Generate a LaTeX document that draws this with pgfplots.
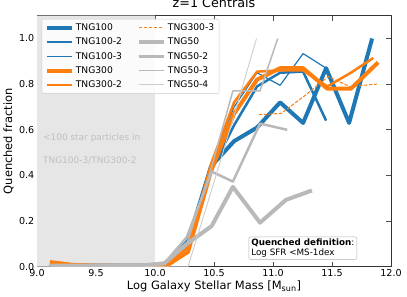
\documentclass[border=0pt]{standalone}
\usepackage{fontspec}
\setmainfont{DejaVu Sans}
\usepackage{pgfplots}
\pgfplotsset{compat=1.18}
\definecolor{tblue}{RGB}{31,119,180}
\definecolor{torange}{RGB}{255,127,14}
\definecolor{tgray}{RGB}{185,185,185}
\definecolor{tlgray}{RGB}{205,205,205}
\definecolor{shade}{RGB}{230,230,230}
\begin{document}
\begin{tikzpicture}
\useasboundingbox (0,0) rectangle (407bp,297bp);
\begin{axis}[
  at={(37bp,30.3bp)}, anchor=south west,
  scale only axis, width=354bp, height=251bp,
  xmin=9, xmax=12, ymin=0, ymax=1.1,
  xtick={9,9.5,10,10.5,11,11.5,12},
  ytick={0,0.2,0.4,0.6,0.8,1.0},
  minor tick num=0,
  tick align=inside,
  xtick pos=both, ytick pos=both,
  major tick length=5bp,
  tick style={black!70, line width=0.8bp},
  axis line style={black!80, line width=0.8bp},
  /pgf/number format/assume math mode=true,
  xticklabel style={/pgf/number format/.cd, fixed, fixed zerofill, precision=1},
  yticklabel style={/pgf/number format/.cd, fixed, fixed zerofill, precision=1},
  tick label style={font=\fontsize{9.6}{11}\selectfont},
  every tick label/.append style={inner sep=2.5bp},
  title={z=1 Centrals},
  title style={font=\fontsize{12.8}{14}\selectfont, at={(axis description cs:0.5,1)}, anchor=base, yshift=2.4bp, inner sep=0pt},
  xlabel={Log Galaxy Stellar Mass [M$_{\mathrm{sun}}$]},
  ylabel={Quenched fraction},
  label style={font=\fontsize{11.5}{13}\selectfont},
  xlabel style={at={(axis description cs:0.5,-0.0797)}, anchor=center},
  ylabel style={at={(axis description cs:-0.0805,0.5)}, anchor=center},
  legend columns=5,
  transpose legend,
  legend cell align=left,
  legend style={at={(0.013,0.987)}, anchor=north west, draw=black!20, rounded corners=2bp,
    fill=white, fill opacity=0.85, text opacity=1,
    font=\fontsize{9.2}{10}\selectfont, row sep=2bp, inner xsep=3bp, inner ysep=2.5bp,
    /tikz/every even column/.append style={column sep=13bp}},
  legend image code/.code={\draw[#1] (0bp,0bp) -- (25bp,0bp);},
  line join=round,
]
\addplot[fill=shade, draw=none, forget plot] coordinates {(9,0) (10,0) (10,1.1) (9,1.1)} \closedcycle;

% TNG100
\addplot[tblue, line width=4bp] coordinates {
(9.11,0.005) (9.305,0.005) (9.5,0.005) (9.695,0.005) (9.89,0.005) (10.085,0.01)
(10.28,0.11) (10.475,0.44) (10.67,0.55) (10.865,0.61) (11.06,0.72) (11.255,0.63)
(11.45,0.87) (11.645,0.63) (11.84,1.0)};
\addlegendentry{TNG100}
% TNG100-2
\addplot[tblue, line width=2.5bp] coordinates {
(9.11,0.005) (9.305,0.005) (9.5,0.005) (9.695,0.005) (9.89,0.005) (10.085,0.01)
(10.28,0.10) (10.475,0.42) (10.67,0.62) (10.865,0.79) (11.06,0.85) (11.255,0.855)
(11.45,0.64)};
\addlegendentry{TNG100-2}
% TNG100-3
\addplot[tblue, line width=1.2bp] coordinates {
(9.11,0.005) (9.305,0.005) (9.5,0.005) (9.695,0.005) (9.89,0.005) (10.085,0.01)
(10.28,0.12) (10.475,0.45) (10.67,0.70) (10.865,0.85) (11.06,0.795) (11.255,0.934)
(11.45,0.87)};
\addlegendentry{TNG100-3}
% TNG300
\addplot[torange, line width=4bp] coordinates {
(9.11,0.02) (9.305,0.008) (9.5,0.005) (9.695,0.004) (9.89,0.004) (10.085,0.0)
(10.28,0.065) (10.475,0.42) (10.67,0.67) (10.865,0.82) (11.06,0.87) (11.255,0.87)
(11.46,0.78) (11.66,0.78) (11.89,0.895)};
\addlegendentry{TNG300}
% TNG300-2
\addplot[torange, line width=2.5bp] coordinates {
(9.11,0.015) (9.305,0.006) (9.5,0.004) (9.695,0.004) (9.89,0.006) (10.085,0.003)
(10.28,0.085) (10.475,0.45) (10.67,0.72) (10.865,0.855) (11.06,0.86) (11.255,0.86)
(11.46,0.79) (11.66,0.85) (11.85,0.915)};
\addlegendentry{TNG300-2}
% TNG300-3
\addplot[torange, line width=1bp, dash pattern=on 3.5bp off 1.5bp] coordinates {
(10.88,0.666) (11.07,0.672) (11.27,0.75) (11.47,0.833) (11.65,0.79) (11.88,0.80)};
\addlegendentry{TNG300-3}
% TNG50
\addplot[tgray, line width=4bp] coordinates {
(9.11,0.005) (9.33,0.005) (9.55,0.005) (9.77,0.005) (9.9,0.006) (10.08,0.015)
(10.27,0.10) (10.48,0.178) (10.66,0.35) (10.89,0.193) (11.11,0.293) (11.33,0.334)};
\addlegendentry{TNG50}
% TNG50-2
\addplot[tgray, line width=2.5bp] coordinates {
(9.11,0.005) (9.33,0.005) (9.55,0.005) (9.77,0.005) (9.9,0.006) (10.08,0.015)
(10.27,0.13) (10.48,0.417) (10.66,0.373) (10.89,0.627) (11.12,0.60)};
\addlegendentry{TNG50-2}
% TNG50-3
\addplot[tgray, line width=1.5bp] coordinates {
(9.9,0.005) (10.08,0.01) (10.27,0.10) (10.47,0.42) (10.66,0.77) (10.89,0.77) (11.04,1.0)};
\addlegendentry{TNG50-3}
% TNG50-4
\addplot[tlgray, line width=0.9bp] coordinates {
(9.9,0.0) (10.08,0.0) (10.28,0.0) (10.5,0.37) (10.68,0.68) (10.86,1.0)};
\addlegendentry{TNG50-4}

\node[anchor=west, text=black!25, font=\fontsize{9}{10}\selectfont, inner sep=0pt] at (axis cs:9.05,0.565) {<100 star particles in};
\node[anchor=west, text=black!25, font=\fontsize{9}{10}\selectfont, inner sep=0pt] at (axis cs:9.05,0.464) {TNG100-3/TNG300-2};
\node[draw=black!30, rounded corners=2bp, fill=white, align=left, inner xsep=2.5bp, inner ysep=2bp,
  font=\fontsize{8.8}{10.3}\selectfont] at (axis cs:11.253,0.081) {\textbf{Quenched definition}:\\Log SFR <MS-1dex};
\end{axis}
\end{tikzpicture}
\end{document}
